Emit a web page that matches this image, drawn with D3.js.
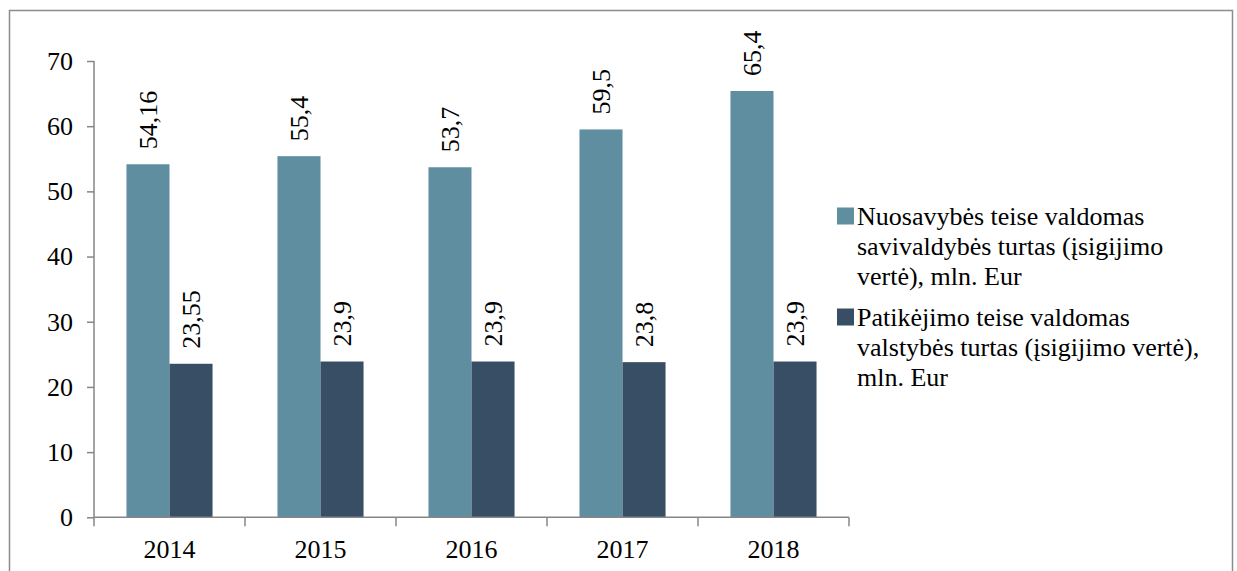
<!DOCTYPE html>
<html>
<head>
<meta charset="utf-8">
<script src="https://cdn.jsdelivr.net/npm/d3@7"></script>
<style>
  html, body { margin: 0; padding: 0; background: #fff; }
  svg { display: block; }
</style>
</head>
<body>
<svg id="chart" width="1237" height="571"></svg>
<script>
const years = ["2014", "2015", "2016", "2017", "2018"];
const ownedValues = [54.16, 55.4, 53.7, 59.5, 65.4];
const trustValues = [23.55, 23.9, 23.9, 23.8, 23.9];
const ownedLabels = ["54,16", "55,4", "53,7", "59,5", "65,4"];
const trustLabels = ["23,55", "23,9", "23,9", "23,8", "23,9"];
const yTicks = [0, 10, 20, 30, 40, 50, 60, 70];
const seriesNames = [
  ["Nuosavybės teise valdomas", "savivaldybės turtas (įsigijimo", "vertė), mln. Eur"],
  ["Patikėjimo teise valdomas", "valstybės turtas (įsigijimo vertė),", "mln. Eur"]
];
const colors = ["#5F8EA0", "#374E65"];

const svg = d3.select("#chart");
const axisColor = "#868686";
const fontSize = 26;
const serif = "'Liberation Serif', 'Times New Roman', Tinos, serif";

function styleText(sel) {
  sel.style("font-family", serif).style("font-size", fontSize + "px").attr("fill", "#000");
}

// outer frame
svg.append("rect")
  .attr("x", 9.5).attr("y", 10.5)
  .attr("width", 1223).attr("height", 600)
  .attr("fill", "none").attr("stroke", "#8c8c8c").attr("stroke-width", 1.5);

const plot = { left: 94, right: 849, top: 61, bottom: 517.3 };

const x0 = d3.scaleBand().domain(years).range([plot.left, plot.right]).paddingInner(0).paddingOuter(0);
const y = d3.scaleLinear().domain([0, 70]).range([plot.bottom, plot.top]);
const barW = x0.bandwidth() * 0.285;

const series = [
  { values: ownedValues, labels: ownedLabels, color: colors[0], offset: -1 },
  { values: trustValues, labels: trustLabels, color: colors[1], offset: 0 }
];

// bars
series.forEach(s => {
  svg.append("g").selectAll("rect")
    .data(years)
    .join("rect")
    .attr("x", (d) => x0(d) + x0.bandwidth() / 2 + s.offset * barW)
    .attr("y", (d, i) => y(s.values[i]))
    .attr("width", barW)
    .attr("height", (d, i) => y(0) - y(s.values[i]))
    .attr("fill", s.color);

  svg.append("g").selectAll("text")
    .data(years)
    .join("text")
    .attr("transform", (d, i) => {
      const cx = x0(d) + x0.bandwidth() / 2 + s.offset * barW + barW / 2;
      const cy = y(s.values[i]) - 15;
      return `translate(${cx},${cy}) rotate(-90)`;
    })
    .attr("dy", "0.34em")
    .attr("text-anchor", "start")
    .text((d, i) => s.labels[i])
    .call(styleText);
});

// y axis
const yAxis = svg.append("g")
  .attr("transform", `translate(${plot.left},0)`)
  .call(d3.axisLeft(y).tickValues(yTicks).tickSize(7).tickPadding(14).tickFormat(d3.format("d")));
yAxis.attr("font-family", null);
yAxis.selectAll("path, line").attr("stroke", axisColor).attr("stroke-width", 1.5);
yAxis.select(".domain").attr("d", `M0,${plot.top}H0V${plot.bottom}`);
yAxis.selectAll("text").call(styleText);

// x axis
const xAxis = svg.append("g")
  .attr("transform", `translate(0,${plot.bottom})`)
  .call(d3.axisBottom(x0).tickSize(0).tickPadding(22));
xAxis.attr("font-family", null);
xAxis.select(".domain").attr("stroke", axisColor).attr("stroke-width", 1.5)
  .attr("d", `M${plot.left},0H${plot.right}`);
xAxis.selectAll("text").call(styleText);
const boundaries = years.map(d => x0(d)).concat([plot.right]);
xAxis.append("g").selectAll("line")
  .data(boundaries)
  .join("line")
  .attr("x1", d => d).attr("x2", d => d)
  .attr("y1", 0).attr("y2", 9)
  .attr("stroke", axisColor).attr("stroke-width", 1.5);

// legend
const legend = svg.append("g");
const legendX = 837;
const itemTops = [216, 317];
seriesNames.forEach((lines, i) => {
  const g = legend.append("g").attr("transform", `translate(${legendX},${itemTops[i]})`);
  g.append("rect").attr("x", 0).attr("y", -8.5).attr("width", 17).attr("height", 17).attr("fill", colors[i]);
  g.selectAll("text").data(lines).join("text")
    .attr("x", 20)
    .attr("y", (d, j) => j * 30)
    .attr("dy", "0.34em")
    .text(d => d)
    .call(styleText);
});
</script>
</body>
</html>
